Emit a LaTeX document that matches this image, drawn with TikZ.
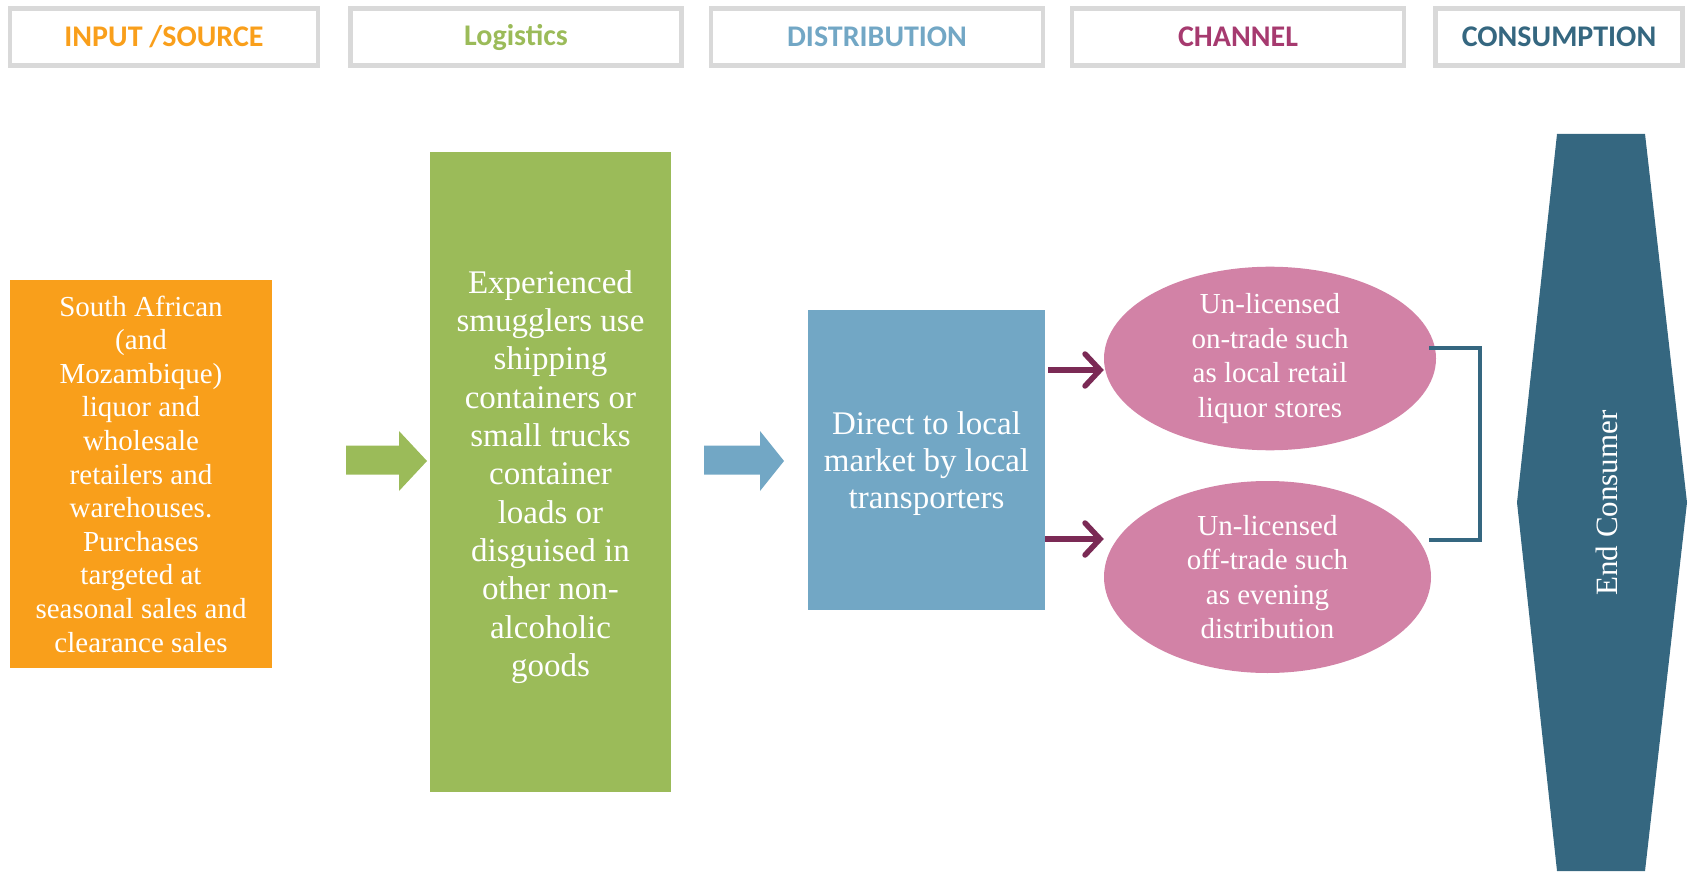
\documentclass[tikz,border=0pt]{standalone}
\usepackage{fontspec}
\setmainfont{Liberation Serif}
\newfontfamily\hdrfont{Carlito}
\usetikzlibrary{shapes.geometric,arrows.meta}
\definecolor{cOrange}{RGB}{249,159,27}
\definecolor{cGreen}{RGB}{155,187,89}
\definecolor{cBlue}{RGB}{114,167,197}
\definecolor{cPink}{RGB}{210,130,166}
\definecolor{cPlum}{RGB}{123,42,85}
\definecolor{cMag}{RGB}{166,58,111}
\definecolor{cTeal}{RGB}{53,103,128}
\definecolor{cGray}{RGB}{217,217,217}
\begin{document}
\begin{tikzpicture}[x=1pt,y=-1pt,
  hdrbox/.style={draw=cGray,line width=4.3pt,minimum height=57pt,inner sep=0pt,
    font={\hdrfont\bfseries\fontsize{30}{34}\selectfont}},
  body/.style={text=white,align=center,inner sep=0pt},
  marrow/.style={draw=cPlum,line width=5.5pt,
    -{Straight Barb[length=15pt,width=32pt,line cap=round]}},
  bracket/.style={draw=cTeal,line width=4.5pt}]
\useasboundingbox (0,0) rectangle (1691,874);
% headers
\node[hdrbox,minimum width=308pt,text=cOrange] (h1) at (164,37) {INPUT /SOURCE};
\node[hdrbox,minimum width=331pt,text=cGreen] (h2) at (516,37) {Logistics};
\node[hdrbox,minimum width=332pt,text=cBlue] (h3) at (877,37) {DISTRIBUTION};
\node[hdrbox,minimum width=332pt,text=cMag] (h4) at (1238,37) {CHANNEL};
\node[hdrbox,minimum width=247pt,text=cTeal] (h5) at (1559,37) {CONSUMPTION};
% main boxes
\node[body,fill=cOrange,minimum width=262pt,minimum height=387.5pt,
  font={\fontsize{29}{33.6}\selectfont}] (src) at (141,474)
  {South African\\(and\\Mozambique)\\liquor and\\wholesale\\retailers and\\warehouses.\\Purchases\\targeted at\\seasonal sales and\\clearance sales};
\node[fill=cGreen,minimum width=241pt,minimum height=639.5pt,inner sep=0pt] (log) at (550.5,472) {};
\node[body,font={\fontsize{33}{38.3}\selectfont}] (logt) at ([yshift=-5pt]log.center)
  {Experienced\\smugglers use\\shipping\\containers or\\small trucks\\container\\loads or\\disguised in\\other non-\\alcoholic\\goods};
\node[fill=cBlue,minimum width=237pt,minimum height=300.5pt,inner sep=0pt] (dist) at (926.5,460) {};
\node[body,font={\fontsize{33}{37}\selectfont}] (distt) at ([yshift=-4pt]dist.center)
  {Direct to local\\market by local\\transporters};
\node[body,ellipse,fill=cPink,minimum width=332pt,minimum height=169pt,
  font={\fontsize{29}{34.5}\selectfont}] (e1) at (1270,358.5)
  {Un-licensed\\on-trade such\\as local retail\\liquor stores};
\node[body,ellipse,fill=cPink,minimum width=327pt,minimum height=192pt,
  font={\fontsize{29}{34.5}\selectfont}] (e2) at (1267.5,577)
  {Un-licensed\\off-trade such\\as evening\\distribution};
% consumer hexagon
\fill[cTeal] (1557,134) -- (1645,134) -- (1687,502.5) -- (1645,871) -- (1557,871) -- (1517,502.5) -- cycle;
\node[text=white,rotate=90,inner sep=0pt,font={\fontsize{31}{36}\selectfont}] (cons) at (1607,503) {End Consumer};
% block arrows
\fill[cGreen] (346,445.5) -- (399,445.5) -- (399,431) -- (427,461) -- (399,491) -- (399,474.5) -- (346,474.5) -- cycle;
\fill[cBlue] (704,445.5) -- (760,445.5) -- (760,431) -- (784,461) -- (760,491) -- (760,474.5) -- (704,474.5) -- cycle;
% channel arrows
\draw[marrow] (dist.east |- 0,370) ++(3,0) -- (e1.west |- 0,370);
\draw[marrow] (dist.east |- 0,539) -- (e2.west |- 0,539);
% bracket
\coordinate (b1) at (1429,348);
\coordinate (b2) at (1429,540);
\draw[bracket] (b1) -- ++(51,0) |- (b2);
\end{tikzpicture}
\end{document}
